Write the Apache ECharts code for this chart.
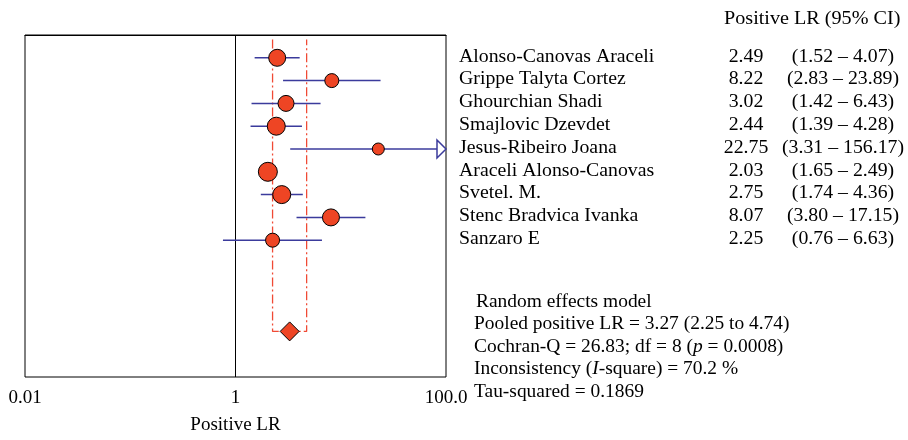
<!DOCTYPE html>
<html>
<head>
<meta charset="utf-8">
<style>
  html, body { margin: 0; padding: 0; background: #fff; }
  #chart { width: 908px; height: 440px; }
</style>
<script src="https://cdn.jsdelivr.net/npm/echarts@6/dist/echarts.min.js"></script>
</head>
<body>
<div id="chart"></div>
<script>
// studies, top to bottom
var studies = ['Alonso-Canovas Araceli', 'Grippe Talyta Cortez', 'Ghourchian Shadi', 'Smajlovic Dzevdet',
  'Jesus-Ribeiro Joana', 'Araceli Alonso-Canovas', 'Svetel. M.', 'Stenc Bradvica Ivanka', 'Sanzaro E'];
var lr = [2.49, 8.22, 3.02, 2.44, 22.75, 2.03, 2.75, 8.07, 2.25];
var ciLow = [1.52, 2.83, 1.42, 1.39, 3.31, 1.65, 1.74, 3.80, 0.76];
var ciHigh = [4.07, 23.89, 6.43, 4.28, 156.17, 2.49, 4.36, 17.15, 6.63];
// marker size ~ study weight
var weightSize = [17, 14, 16, 18, 12, 19, 18, 17, 14];

var pooled = 3.27, pooledLow = 2.25, pooledHigh = 4.74;
var tickLabels = { '0.01': '0.01', '1': '1', '100': '100.0' };

var xMin = 0.01, xMax = 100;
var rowMax = 15, pooledRow = 13;

var font = 'Liberation Serif';
var red = '#ee4524', blue = '#3b3b9c', dashRed = '#f04a35';

var chart = echarts.init(document.getElementById('chart'));

var ciData = studies.map(function (s, i) { return [i + 1, ciLow[i], ciHigh[i]]; });
var pointData = studies.map(function (s, i) {
  return { value: [lr[i], i + 1], symbolSize: weightSize[i] };
});

chart.setOption({
  animation: false,
  textStyle: { fontFamily: font },
  grid: { left: 25, right: 462, top: 35, bottom: 58, show: true, borderColor: '#000', borderWidth: 1 },
  xAxis: {
    type: 'log',
    logBase: 10,
    min: xMin,
    max: xMax,
    name: 'Positive LR',
    nameLocation: 'middle',
    nameGap: 39,
    nameTextStyle: { fontFamily: font, fontSize: 19, color: '#000' },
    axisLine: { show: true, lineStyle: { color: '#000' } },
    axisTick: { show: false },
    splitLine: { show: false },
    axisLabel: {
      margin: 12,
      fontFamily: font,
      fontSize: 19,
      color: '#000',
      formatter: function (v) {
        var k = String(Math.round(v * 100) / 100);
        return tickLabels[k] || '';
      }
    }
  },
  yAxis: {
    type: 'value',
    min: 0,
    max: rowMax,
    inverse: true,
    axisLine: { show: false },
    axisTick: { show: false },
    axisLabel: { show: false },
    splitLine: { show: false }
  },
  series: [
    {
      // line of no effect
      type: 'line',
      data: [[1, 0], [1, rowMax]],
      symbol: 'none',
      lineStyle: { color: '#000', width: 1 },
      z: 1
    },
    {
      // pooled CI bracket
      type: 'line',
      data: [[pooledLow, 0.2], [pooledLow, pooledRow], [pooledHigh, pooledRow], [pooledHigh, 0.2]],
      symbol: 'none',
      lineStyle: { color: dashRed, width: 1.3, type: [9, 3, 2, 3] },
      z: 2
    },
    {
      type: 'custom',
      encode: { x: [1, 2], y: 0 },
      data: ciData,
      z: 3,
      renderItem: function (params, api) {
        var row = api.value(0);
        var lo = api.value(1), hi = api.value(2);
        var p1 = api.coord([lo, row]);
        var p2 = api.coord([Math.min(hi, xMax), row]);
        var st = { stroke: blue, lineWidth: 1.5 };
        if (hi > xMax) {
          var tip = p2[0], y = p2[1];
          return {
            type: 'group',
            children: [
              { type: 'line', shape: { x1: p1[0], y1: y, x2: tip - 9, y2: y }, style: st },
              { type: 'polygon', shape: { points: [[tip - 9, y - 9], [tip, y], [tip - 9, y + 9]] },
                style: { fill: '#fff', stroke: blue, lineWidth: 1.5 } }
            ]
          };
        }
        return { type: 'line', shape: { x1: p1[0], y1: p1[1], x2: p2[0], y2: p2[1] }, style: st };
      }
    },
    {
      type: 'scatter',
      data: pointData,
      itemStyle: { color: red, borderColor: '#000', borderWidth: 1, opacity: 1 },
      z: 4
    },
    {
      type: 'scatter',
      data: [[pooled, pooledRow]],
      symbol: 'diamond',
      symbolSize: [19, 19],
      itemStyle: { color: red, borderColor: '#000', borderWidth: 1, opacity: 1 },
      z: 5
    }
  ]
});

// right-hand table, rows aligned to the plot rows
var txt = { fontFamily: font, fontSize: 18, fill: '#000' };
function t(x, y, text, align, extra, sx) {
  return {
    type: 'text',
    x: x, y: y,
    scaleX: sx || 1.1,
    style: Object.assign({ text: text, align: align || 'left', verticalAlign: 'middle' }, txt, extra || {})
  };
}
var g = [];
g.push(t(724, 19, 'Positive LR (95% CI)', 'left', null, 1.12));
studies.forEach(function (s, i) {
  var y = chart.convertToPixel({ gridIndex: 0 }, [1, i + 1])[1] - 1;
  g.push(t(459, y, s));
  g.push(t(746, y, lr[i].toFixed(2), 'center'));
  g.push(t(843, y, '(' + ciLow[i].toFixed(2) + ' \u2013 ' + ciHigh[i].toFixed(2) + ')', 'center'));
});
var rich = {
  a: { fontFamily: font, fontSize: 18, fill: '#000' },
  i: { fontFamily: font, fontSize: 18, fill: '#000', fontStyle: 'italic' }
};
g.push(t(476, 302, 'Random effects model', 'left', null, 1.08));
g.push(t(474, 324, 'Pooled positive LR = ' + pooled.toFixed(2) + ' (' + pooledLow.toFixed(2) + ' to ' + pooledHigh.toFixed(2) + ')', 'left', null, 1.08));
g.push(t(474, 347, '{a|Cochran-Q = 26.83; df = 8 (}{i|p}{a| = 0.0008)}', 'left', { rich: rich }, 1.08));
g.push(t(474, 369, '{a|Inconsistency (}{i|I}{a|-square) = 70.2 %}', 'left', { rich: rich }, 1.08));
g.push(t(474, 392, 'Tau-squared = 0.1869', 'left', null, 1.08));
chart.setOption({ graphic: g });
</script>
</body>
</html>
